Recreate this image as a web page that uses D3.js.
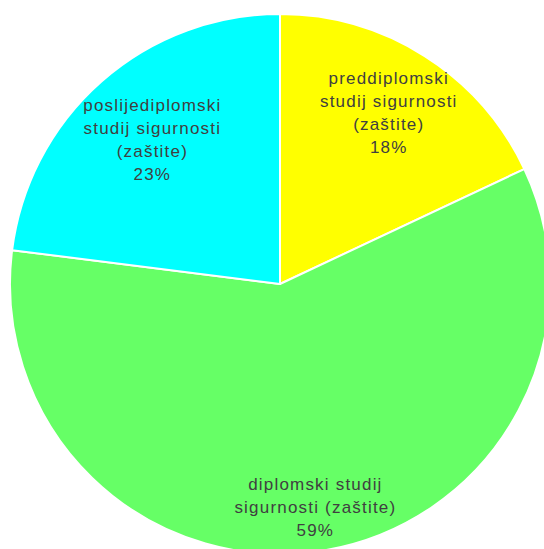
<!DOCTYPE html>
<html>
<head>
<meta charset="utf-8">
<script src="https://cdn.jsdelivr.net/npm/d3@7"></script>
<style>
  html, body { margin: 0; padding: 0; background: #fff; overflow: hidden; }
  svg { display: block; }
</style>
</head>
<body>
<script>
"use strict";
// chart data
const categories = [
    "preddiplomski\nstudij sigurnosti\n(zaštite)",
    "diplomski studij\nsigurnosti (zaštite)",
    "poslijediplomski\nstudij sigurnosti\n(zaštite)"
]
const values = [18, 59, 23]
const colors = ["#ffff00", "#66ff66", "#00ffff"]

// dimensions for svg
const measurements = {
    width: 544,
    height: 549,
    cx: 280,
    cy: 284,
    radius: 270
}
// distance of each label from the centre
const labelRadii = [203, 226, 193]

const svgContainer = d3.select("body").append("svg")
    .attr("width", measurements.width)
    .attr("height", measurements.height)

const g = svgContainer.append("g")
    .attr("transform", `translate(${measurements.cx},${measurements.cy})`)

const pie = d3.pie().sort(null).value(d => d)
const arcs = pie(values)

const arc = d3.arc().innerRadius(0).outerRadius(measurements.radius)

g.selectAll("path")
    .data(arcs)
    .enter()
    .append("path")
        .attr("d", arc)
        .attr("fill", (d, i) => colors[i])
        .attr("stroke", "#ffffff")
        .attr("stroke-width", 2)
        .attr("stroke-linejoin", "round")

// labels: category lines plus percentage
const total = d3.sum(values)
const lineHeight = 23
arcs.forEach((d, i) => {
    const r = labelRadii[i]
    const pos = d3.arc().innerRadius(r).outerRadius(r).centroid(d)
    const lines = categories[i].split("\n").concat([Math.round(d.value / total * 100) + "%"])
    const text = g.append("text")
        .attr("text-anchor", "middle")
        .attr("font-family", "Liberation Sans, Arial, sans-serif")
        .attr("font-size", "17px")
        .attr("letter-spacing", "1.2px")
        .attr("fill", "#404040")
    const top = pos[1] - (lines.length - 1) * lineHeight / 2 + 6
    lines.forEach((line, j) => {
        text.append("tspan")
            .attr("x", pos[0])
            .attr("y", top + j * lineHeight)
            .text(line)
    })
})
</script>
</body>
</html>
